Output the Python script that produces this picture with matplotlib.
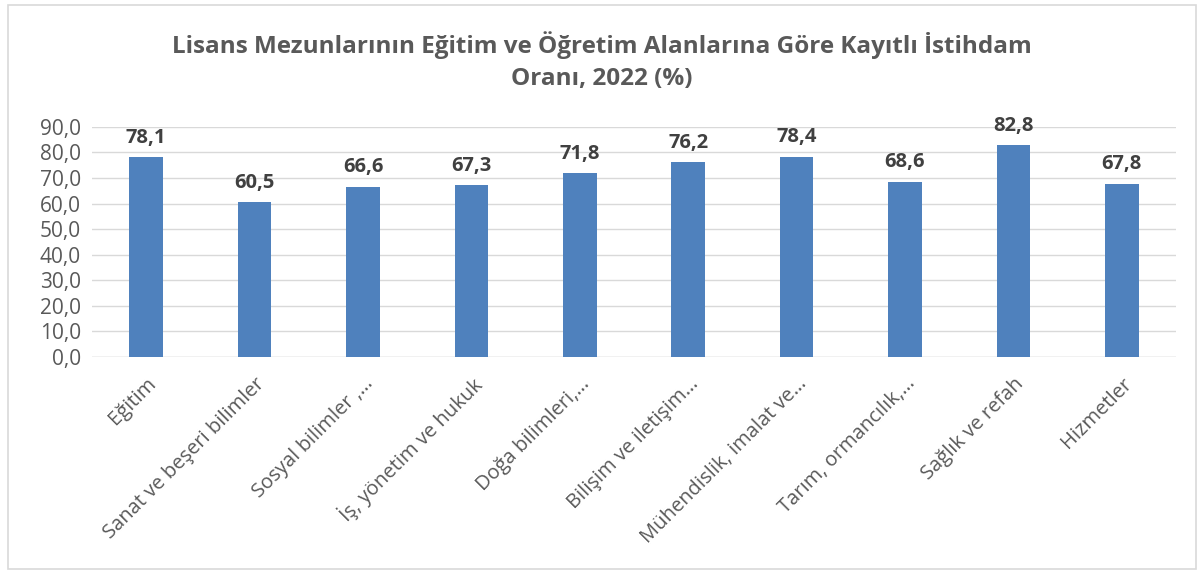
import matplotlib.pyplot as plt
import numpy as np
from matplotlib.patches import Rectangle

plt.rcParams["font.family"] = ["Open Sans", "DejaVu Sans"]

categories = ["Eğitim", "Sanat ve beşeri bilimler", "Sosyal bilimler ,…",
              "İş, yönetim ve hukuk", "Doğa bilimleri,…", "Bilişim ve iletişim…",
              "Mühendislik, imalat ve…", "Tarım, ormancılık,…",
              "Sağlık ve refah", "Hizmetler"]
values = [78.1, 60.5, 66.6, 67.3, 71.8, 76.2, 78.4, 68.6, 82.8, 67.8]
yticks = np.arange(0, 91, 10)

fig = plt.figure(figsize=(12.04, 5.74), dpi=100)
fig.patches.append(Rectangle((0.007, 0.008), 0.986, 0.984, transform=fig.transFigure,
                             fill=False, edgecolor="#d9d9d9", linewidth=1.2))
ax = fig.add_axes([0.0764, 0.378, 0.9003, 0.401])

x = np.arange(len(categories))
ax.bar(x, values, width=0.31, color="#4f81bd", zorder=3)

for xi, v in zip(x, values):
    ax.text(xi, v + 3.6, f"{v:.1f}".replace(".", ","), ha="center", va="bottom",
            fontsize=14.5, fontweight="bold", color="#404040")

ax.set_xlim(-0.5, len(categories) - 0.5)
ax.set_ylim(0, 90)
ax.set_yticks(yticks)
ax.set_yticklabels([f"{t:.1f}".replace(".", ",") for t in yticks],
                   fontsize=15, color="#595959")
ax.set_xticks(x)
ax.set_xticklabels(categories, rotation=45, ha="right", rotation_mode="anchor",
                   fontsize=14.5, color="#595959")
ax.tick_params(axis="y", length=0, pad=8)
ax.tick_params(axis="x", length=0, pad=12)
ax.grid(axis="y", color="#d9d9d9", linewidth=1, zorder=0)
for s in ax.spines.values():
    s.set_visible(False)
ax.axhline(0, color="#d9d9d9", linewidth=1, zorder=1)

fig.text(0.5, 0.894, "Lisans Mezunlarının Eğitim ve Öğretim Alanlarına Göre Kayıtlı İstihdam\nOranı, 2022 (%)",
         ha="center", va="center", fontsize=17.5, fontweight="bold", color="#595959",
         linespacing=1.45)

fig.savefig("out.png", dpi=100)
